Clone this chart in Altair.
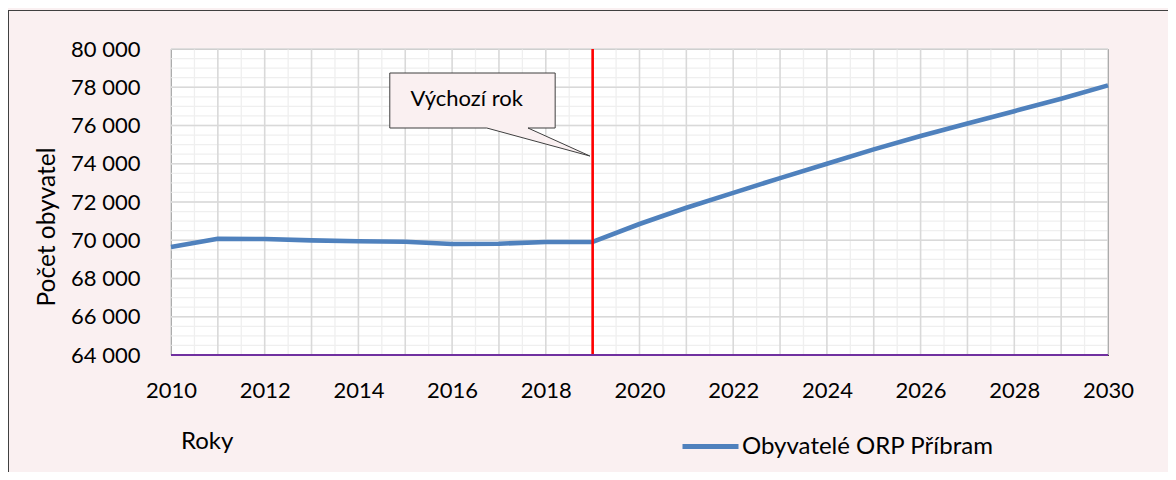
import altair as alt
import pandas as pd

# ---- data ----
years = list(range(2010, 2031))
population = [69650, 70080, 70065, 69995, 69945, 69925, 69805, 69820, 69910, 69910,
              70850, 71700, 72480, 73250, 74000, 74750, 75450, 76100, 76750, 77400, 78100]
series_name = "Obyvatelé ORP Příbram"
base_year = 2019

x_tick_labels = [2010, 2012, 2014, 2016, 2018, 2020, 2022, 2024, 2026, 2028, 2030]
y_tick_labels = [64000, 66000, 68000, 70000, 72000, 74000, 76000, 78000, 80000]
x_major_grid = list(range(2010, 2031))
x_minor_grid = [y + 0.5 for y in range(2010, 2030)]
y_major_grid = y_tick_labels
y_minor_grid = list(range(64000, 80001, 500))

callout_text = "Výchozí rok"
callout_x = [2014.67, 2018.20, 2018.20, 2017.62, 2018.94, 2016.74, 2014.67, 2014.67]
callout_y = [78745, 78745, 75869, 75869, 74405, 75869, 75869, 78745]
callout_text_x = 2015.11
callout_text_y = 77035

BG = "#FAF0F1"
FONT = "Lato"

df = pd.DataFrame({"year": years, "pop": population, "series": series_name})
xs = alt.Scale(domain=[2010, 2030], nice=False, zero=False)
ys = alt.Scale(domain=[64000, 80000], nice=False, zero=False)

xax = alt.Axis(values=x_tick_labels, format="d", grid=False, ticks=False, tickSize=0,
               domain=False, labelFontSize=22, labelPadding=25, labelColor="#000000",
               labelFont=FONT, labelFlush=False, labelOverlap=False, labelBound=False)
yax = alt.Axis(values=y_tick_labels, labelExpr="replace(format(datum.value, ',d'), ',', ' ')",
               grid=False, ticks=False, tickSize=0, domain=True, domainColor="#000000",
               domainWidth=1, labelFontSize=22, labelPadding=31, labelColor="#000000",
               labelFont=FONT, labelFlush=False, labelOverlap=False,
               titleFont=FONT, titleFontSize=24.5, titleFontWeight="normal",
               titleColor="#000000", titleAngle=270, titleX=-124, titleY=177.5,
               titleAlign="center", titleBaseline="middle")


def X(field):
    return alt.X(field, scale=xs, axis=xax, title=None)


def Y(field):
    return alt.Y(field, scale=ys, axis=yax, title="Počet obyvatel")


xminor = alt.Chart(pd.DataFrame({"x": x_minor_grid})).mark_rule(color="#EFEFEF", strokeWidth=1.3).encode(
    x=X("x:Q"))
yminor = alt.Chart(pd.DataFrame({"y": y_minor_grid})).mark_rule(color="#EFEFEF", strokeWidth=1.3).encode(
    y=Y("y:Q"))
xmajor = alt.Chart(pd.DataFrame({"x": x_major_grid})).mark_rule(color="#D9D9D9", strokeWidth=1.6).encode(
    x=X("x:Q"))
ymajor = alt.Chart(pd.DataFrame({"y": y_major_grid})).mark_rule(color="#D9D9D9", strokeWidth=1.6).encode(
    y=Y("y:Q"))

line = alt.Chart(df).mark_line(strokeWidth=4.6, strokeJoin="round").encode(
    x=X("year:Q"),
    y=Y("pop:Q"),
    color=alt.Color("series:N", scale=alt.Scale(range=["#4F81BD"]),
                    legend=alt.Legend(title=None, orient="none", legendX=509, legendY=367,
                                      symbolType="stroke", symbolSize=3136, symbolStrokeWidth=5,
                                      labelFontSize=24, labelFont=FONT, labelColor="#000000",
                                      labelOffset=1, padding=0, labelLimit=0)),
)

red = alt.Chart(pd.DataFrame({"x": [base_year]})).mark_rule(color="#FF0000", strokeWidth=2.6).encode(
    x=X("x:Q"))
purple = alt.Chart(pd.DataFrame({"y": [64000]})).mark_rule(color="#7030A0", strokeWidth=2).encode(
    y=Y("y:Q"))

cdf = pd.DataFrame({"x": callout_x, "y": callout_y, "o": list(range(len(callout_x)))})
callout = alt.Chart(cdf).mark_line(fill=BG, stroke="#3F3F3F", strokeWidth=1).encode(
    x=X("x:Q"), y=Y("y:Q"), order="o:Q")
ctext = alt.Chart(pd.DataFrame({"x": [callout_text_x], "y": [callout_text_y], "t": [callout_text]})).mark_text(
    align="left", baseline="alphabetic", fontSize=22, font=FONT, color="#000000").encode(
    x=X("x:Q"), y=Y("y:Q"), text="t:N")

roky = alt.Chart(pd.DataFrame({"t": ["Roky"]})).mark_text(
    align="left", baseline="middle", fontSize=24, font=FONT, color="#000000").encode(
    x=alt.value(10), y=alt.value(393), text="t:N")

border_left = alt.Chart(pd.DataFrame({"a": [0]})).mark_rule(color="#404040", strokeWidth=1).encode(
    x=alt.value(-162.5), y=alt.value(-39), y2=alt.value(440))
border_top = alt.Chart(pd.DataFrame({"a": [0]})).mark_rule(color="#404040", strokeWidth=1).encode(
    x=alt.value(-163), x2=alt.value(1010), y=alt.value(-38.5))

chart = alt.layer(
    xminor, yminor, xmajor, ymajor, callout, ctext, line, red, purple, roky, border_left, border_top
).properties(
    width=937, height=306,
    autosize=alt.AutoSizeParams(type="none"),
    padding={"left": 163, "top": 41, "right": 60, "bottom": 117},
    background=BG,
).configure(font=FONT).configure_view(stroke="#000000", strokeWidth=1, fill="#FFFFFF")

chart.save("out.html", embed_options={"renderer": "svg", "actions": False})
